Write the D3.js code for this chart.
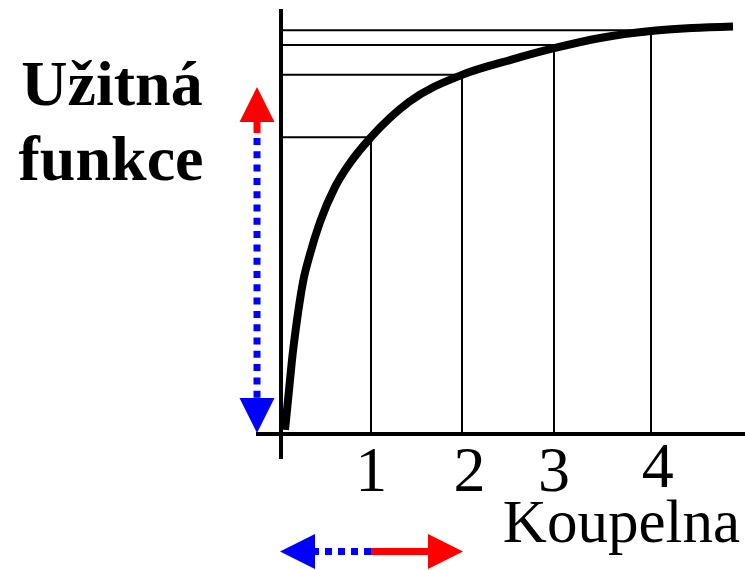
<!DOCTYPE html>
<html lang="cs">
  <head>
    <meta charset="UTF-8" />
    <title>Užitná funkce</title>
    <style>
      body {
        margin: 0;
        overflow: hidden;
        background: #fff;
      }
      svg {
        display: block;
      }
      text {
        font-family: "Liberation Serif", "Times New Roman", serif;
        fill: #000;
      }
    </style>
  </head>
  <body>
    <svg></svg>
    <script src="https://d3js.org/d3.v7.min.js"></script>
    <script>
      // data: bathrooms (x) vs utility (0..100)
      const curveX = [0.033, 0.077, 0.11, 0.165, 0.231, 0.308, 0.418, 0.582, 0.747, 0.978, 1.396, 1.978, 2.505, 2.989, 3.495, 4.055, 4.505, 4.956];
      const curveU = [1, 10.7, 18.1, 27.8, 37.1, 43.9, 51.7, 60.2, 66.1, 72.4, 81, 87.6, 91.2, 94.1, 96.6, 98.3, 99, 99.4];

      // guide lines
      const tickX = [0.978, 1.978, 2.989, 4.055];
      const tickLabels = ["1", "2", "3", "4"];
      const labelX = [0.98, 2.06, 2.99, 4.13];
      const levelU = [72.4, 87.6, 94.9, 98.5];

      const width = 745;
      const height = 570;

      const svg = d3.select("svg").attr("width", width).attr("height", height);

      const x = d3.scaleLinear().domain([0, 5]).range([282, 737]);
      const y = d3.scaleLinear().domain([0, 100]).range([434, 24]);

      // horizontal guide lines from the axis to the curve
      svg
        .append("g")
        .selectAll("line")
        .data(levelU)
        .join("line")
        .attr("x1", x(0))
        .attr("x2", (d, i) => x(tickX[i]))
        .attr("y1", (d) => y(d))
        .attr("y2", (d) => y(d))
        .attr("stroke", "#000")
        .attr("stroke-width", 2);

      // vertical guide lines from the axis up to the curve
      svg
        .append("g")
        .selectAll("line")
        .data(tickX)
        .join("line")
        .attr("x1", (d) => x(d))
        .attr("x2", (d) => x(d))
        .attr("y1", y(0))
        .attr("y2", (d) => y(curveU[curveX.indexOf(d)]))
        .attr("stroke", "#000")
        .attr("stroke-width", 2);

      // axes
      svg
        .append("line")
        .attr("x1", x(0) - 1)
        .attr("x2", x(0) - 1)
        .attr("y1", 9)
        .attr("y2", 459)
        .attr("stroke", "#000")
        .attr("stroke-width", 4);
      svg
        .append("line")
        .attr("x1", 256)
        .attr("x2", width)
        .attr("y1", y(0))
        .attr("y2", y(0))
        .attr("stroke", "#000")
        .attr("stroke-width", 4);

      // the utility curve
      const pts = curveX.map((d, i) => [d, curveU[i]]);
      svg
        .append("path")
        .datum(pts)
        .attr("fill", "none")
        .attr("stroke", "#000")
        .attr("stroke-width", 8)
        .attr("d", d3.line().x((d) => x(d[0])).y((d) => y(d[1])).curve(d3.curveMonotoneX));

      // tick labels
      svg
        .append("g")
        .selectAll("text")
        .data(tickLabels)
        .join("text")
        .attr("x", (d, i) => x(labelX[i]))
        .attr("y", (d, i) => (i === 3 ? 487 : 491))
        .attr("text-anchor", "middle")
        .attr("font-size", 64)
        .text((d) => d);

      // axis titles
      svg
        .append("text")
        .attr("x", 740)
        .attr("y", 542)
        .attr("text-anchor", "end")
        .attr("font-size", 61)
        .text("Koupelna");

      const title = svg
        .append("text")
        .attr("text-anchor", "middle")
        .attr("font-size", 64)
        .attr("font-weight", "bold");
      title.append("tspan").attr("x", 112).attr("y", 105).text("Užitná");
      title.append("tspan").attr("x", 111).attr("y", 180).text("funkce");

      // arrows: red = up / right, blue = down / left
      const red = "#ff0000";
      const blue = "#0000ff";

      function head(cx, cy, dir, color) {
        // cx,cy = tip of the arrow head
        const L = 35,
          h = 17.5;
        let p;
        if (dir === "up") p = [[cx, cy], [cx - h, cy + L], [cx + h, cy + L]];
        if (dir === "down") p = [[cx, cy], [cx - h, cy - L], [cx + h, cy - L]];
        if (dir === "left") p = [[cx, cy], [cx + L, cy - h], [cx + L, cy + h]];
        if (dir === "right") p = [[cx, cy], [cx - L, cy - h], [cx - L, cy + h]];
        svg.append("polygon").attr("points", p.map((q) => q.join(",")).join(" ")).attr("fill", color);
      }

      // vertical arrow
      const ax = 257;
      svg.append("line").attr("x1", ax).attr("x2", ax).attr("y1", 120).attr("y2", 133)
        .attr("stroke", red).attr("stroke-width", 7);
      svg.append("line").attr("x1", ax).attr("x2", ax).attr("y1", 138).attr("y2", 399)
        .attr("stroke", blue).attr("stroke-width", 7).attr("stroke-dasharray", "7 6.3");
      head(ax, 87, "up", red);
      head(ax, 433, "down", blue);

      // horizontal arrow
      const ay = 551.5;
      svg.append("line").attr("x1", 312).attr("x2", 371).attr("y1", ay).attr("y2", ay)
        .attr("stroke", blue).attr("stroke-width", 7).attr("stroke-dasharray", "7 6");
      svg.append("line").attr("x1", 371).attr("x2", 431).attr("y1", ay).attr("y2", ay)
        .attr("stroke", red).attr("stroke-width", 7);
      head(280, ay, "left", blue);
      head(463, ay, "right", red);
    </script>
  </body>
</html>
